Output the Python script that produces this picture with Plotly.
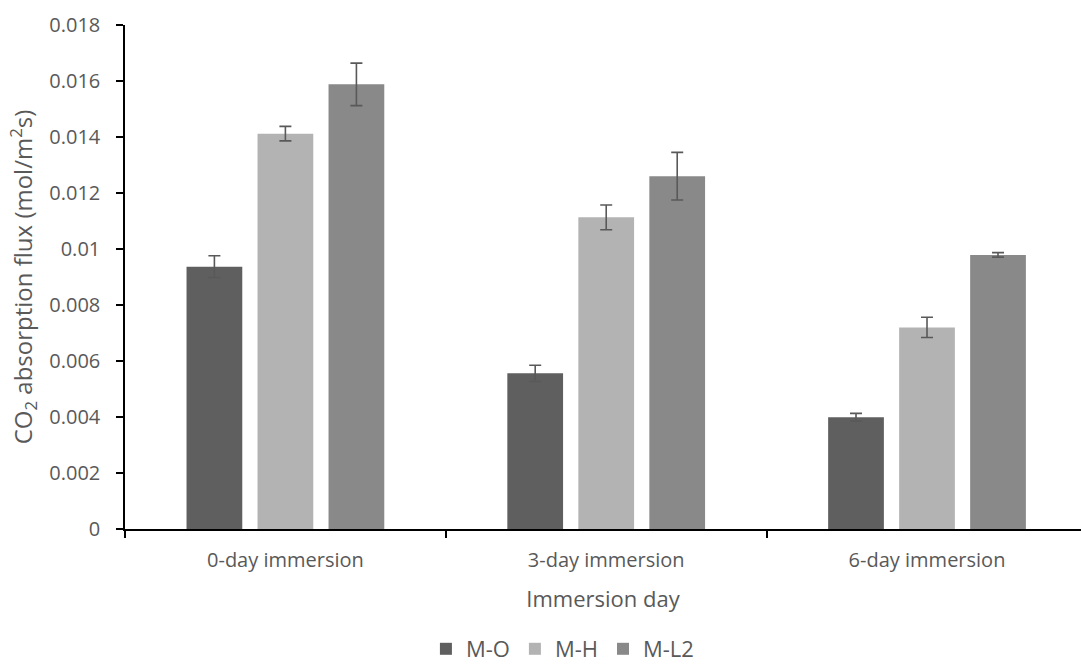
import plotly.graph_objects as go

# CO2 absorption flux by immersion period
categories = ["0-day immersion", "3-day immersion", "6-day immersion"]
series_names = ["M-O", "M-H", "M-L2"]
flux_mo = [0.00937, 0.00556, 0.00399]
flux_mh = [0.01412, 0.01113, 0.00720]
flux_ml2 = [0.01588, 0.01260, 0.00979]
err_mo = [0.00039, 0.00029, 0.00014]
err_mh = [0.00026, 0.00044, 0.00036]
err_ml2 = [0.00076, 0.00085, 0.00008]
y_tickvals = [0, 0.002, 0.004, 0.006, 0.008, 0.01, 0.012, 0.014, 0.016, 0.018]
y_ticktext = ["0", "0.002", "0.004", "0.006", "0.008", "0.01", "0.012", "0.014", "0.016", "0.018"]

colors = ["#5f5f5f", "#b3b3b3", "#898989"]
text_color = "#595959"
font_family = "Open Sans"

fig = go.Figure()
for name, vals, errs, col in zip(series_names, [flux_mo, flux_mh, flux_ml2],
                                 [err_mo, err_mh, err_ml2], colors):
    fig.add_trace(go.Bar(
        name=name, x=categories, y=vals,
        marker=dict(color=col, line=dict(width=0)),
        error_y=dict(type="data", array=errs, visible=True,
                     color="#595959", thickness=1.6, width=6),
    ))

fig.update_layout(
    width=1081, height=670,
    margin=dict(l=125, r=0, t=25, b=141, autoexpand=False),
    paper_bgcolor="white", plot_bgcolor="white",
    barmode="group", bargap=0.336, bargroupgap=0.215,
    font=dict(family=font_family, color=text_color, size=20),
    showlegend=True,
    legend=dict(orientation="h", xref="container", yref="container",
                x=0.394, xanchor="left", y=0.0, yanchor="bottom",
                font=dict(size=22, color=text_color), traceorder="normal",
                itemclick=False, itemwidth=30),
)

fig.update_xaxes(
    range=[-0.5, 2.48], type="category",
    showline=True, linecolor="black", linewidth=1.5,
    ticks="outside", ticklen=7, tickcolor="black", tickwidth=1.5,
    tickson="boundaries", showgrid=False, zeroline=False,
    ticklabelstandoff=12,
    tickfont=dict(size=20, color=text_color),
    title=dict(text="Immersion day", font=dict(size=22, color=text_color), standoff=20),
)
fig.update_yaxes(
    range=[0, 0.018], tickvals=y_tickvals, ticktext=y_ticktext,
    showline=True, linecolor="black", linewidth=1.5,
    ticks="outside", ticklen=7, tickcolor="black", tickwidth=1.5,
    showgrid=False, zeroline=False, ticklabelstandoff=12,
    tickfont=dict(size=20, color=text_color),
    title=dict(text="CO<sub>2</sub> absorption flux (mol/m<sup>2</sup>s)",
               font=dict(size=24, color=text_color), standoff=10),
)

fig.write_html("out.html")
